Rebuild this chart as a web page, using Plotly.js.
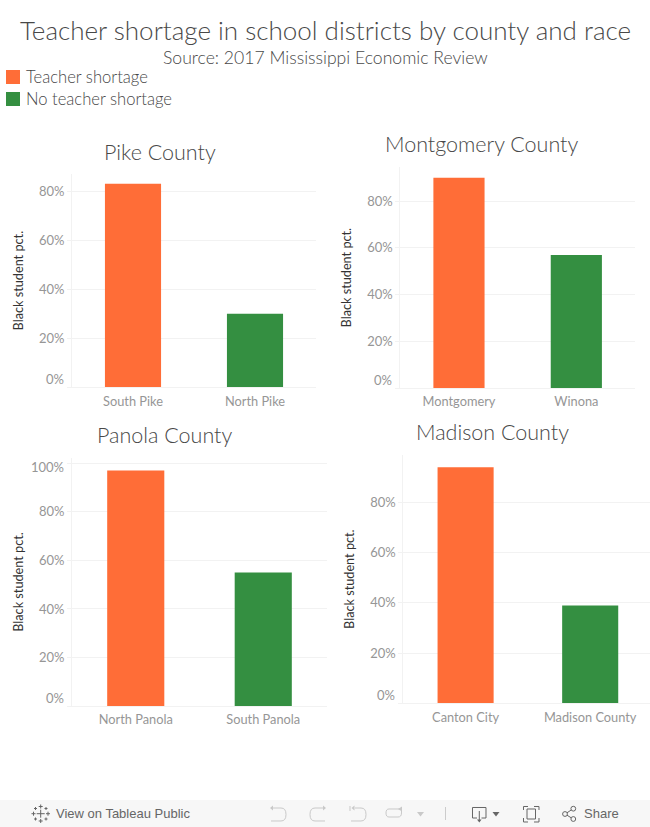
<!DOCTYPE html>
<html><head><meta charset="utf-8">
<script src="https://cdn.plot.ly/plotly-3.0.1.min.js"></script>
<style>html,body{margin:0;padding:0;background:#fff}#c{width:650px;height:827px}</style>
</head><body><div id="c"></div>
<script>
const W = 650, H = 827;
const pikeCats = ['South Pike', 'North Pike'];
const pikeVals = [83, 30];
const montCats = ['Montgomery', 'Winona'];
const montVals = [90, 57];
const panoCats = ['North Panola', 'South Panola'];
const panoVals = [97, 55];
const madiCats = ['Canton City', 'Madison County'];
const madiVals = [94, 39];
const barColors = ['#FF6D37', '#348F41'];
const legendLabels = ['Teacher shortage', 'No teacher shortage'];
const panels = [
  {name:'Pike County', cats:pikeCats, vals:pikeVals, l:72, r:316, t:174, b:387.3, max:87, gap:.54, hi:1.5, tx:159.5, ty:151.5},
  {name:'Montgomery County', cats:montCats, vals:montVals, l:400.3, r:635, t:167.3, b:388, max:94.5, gap:.564, hi:1.5, tx:481.7, ty:144.5},
  {name:'Panola County', cats:panoCats, vals:panoVals, l:72, r:327, t:458, b:706, max:102.2, gap:.552, hi:1.5, tx:164, ty:435, top100:true},
  {name:'Madison County', cats:madiCats, vals:madiVals, l:403.3, r:650, t:455, b:703.3, max:98.9, gap:.55, hi:1.48, tx:492.7, ty:432}
];
const tickStops = [20, 40, 60, 80];
const FONT = 'Lato, "Open Sans", sans-serif';
const UI = '"Liberation Sans", Arial, sans-serif';
const px = x => x / W, py = y => 1 - y / H;
const TICK = '#969696', DARK = '#484848', LINE = '#f2f2f2', ICON_LIGHT = '#c9c9c9', ICON_DARK = '#666666';
const traces = [], annotations = [], shapes = [];
const layout = {
  width: W, height: H, margin: {l:0, r:0, t:0, b:0}, showlegend: false,
  paper_bgcolor: '#fff', plot_bgcolor: '#fff', font: {family: FONT},
  annotations, shapes
};
function text(t, x, y, size, color, anchor, fam, weight) {
  annotations.push({text:t, xref:'paper', yref:'paper', x:px(x), y:py(y), xanchor:anchor||'center', yanchor:'middle',
    showarrow:false, font:{family:fam||FONT, size:size, color:color, weight:weight||300}});
}
// toolbar icon helper: [cmd, x, y, ...] tokens in page pixels, converted to paper space
function icon(segs, color, fill, width) {
  const d = segs.map(s => s[0] + s.slice(1).map((v, i) => (i % 2 ? py(v) : px(v)).toFixed(5)).join(' ')).join(' ');
  shapes.push({type:'path', xref:'paper', yref:'paper', path:d, line:{color:color, width:fill ? 0 : (width||1)}, fillcolor: fill ? color : 'rgba(0,0,0,0)'});
}
function ring(x, y, r, color) {
  shapes.push({type:'circle', xref:'paper', yref:'paper', x0:px(x-r), x1:px(x+r), y0:py(y+r), y1:py(y-r), line:{color:color, width:1}, fillcolor:'rgba(0,0,0,0)'});
}
panels.forEach((p, i) => {
  const s = i ? String(i + 1) : '';
  traces.push({type:'bar', x:p.cats, y:p.vals, xaxis:'x'+s, yaxis:'y'+s, marker:{color:barColors}, hoverinfo:'x+y', width:1-p.gap});
  const tv = [0].concat(tickStops), tt = [''].concat(tickStops.map(v => v + '%'));
  if (p.top100) { tv.push(100); tt.push(''); }
  layout['xaxis'+s] = {domain:[px(p.l), px(p.r)], anchor:'y'+s, type:'category', ticks:'', ticklabelstandoff:2,
    showline:true, linecolor:LINE, linewidth:1, showgrid:false, tickfont:{family:FONT, size:12.8, color:TICK}, fixedrange:true, range:[-.5,p.hi]};
  layout['yaxis'+s] = {domain:[py(p.b), py(p.t)], anchor:'x'+s, range:[0,p.max], tickmode:'array', tickvals:tv, ticktext:tt, ticks:'outside', ticklen:4, tickcolor:LINE,
    showline:true, linecolor:LINE, showgrid:true, gridcolor:LINE, zeroline:false, tickfont:{family:FONT, size:13, color:TICK}, fixedrange:true,
    title:{text:'Black student pct.', font:{family:FONT, size:12.7, color:'#333'}, standoff:12}};
  [-.5, .5].forEach(v => shapes.push({type:'line', xref:'x'+s, yref:'y'+s, x0:v, x1:v, ysizemode:'pixel', yanchor:0, y0:0, y1:-5, line:{color:LINE, width:1}}));
  text(p.name, p.tx, p.ty, 21.5, DARK);
  annotations.push({text:'0%', xref:'paper', yref:'y'+s, x:px(p.l-6), y:0, yshift:8, xanchor:'right', yanchor:'middle', showarrow:false, font:{family:FONT, size:13, color:TICK}});
  if (p.top100) annotations.push({text:'100%', xref:'paper', yref:'y'+s, x:px(p.l-6), y:100, yshift:-4, xanchor:'right', yanchor:'middle', showarrow:false, font:{family:FONT, size:13, color:TICK}});
});
text('Teacher shortage in school districts by county and race', 325, 29.5, 26, DARK);
text('Source: 2017 Mississippi Economic Review', 325, 57.5, 17.6, DARK);
legendLabels.forEach((t, i) => {
  const y = 77 + i * 22;
  shapes.push({type:'rect', xref:'paper', yref:'paper', x0:px(6), x1:px(20), y0:py(y-7), y1:py(y+7), fillcolor:barColors[i], line:{width:0}});
  text(t, 23.5, y + 0.3, 16.6, DARK, 'left');
});
// toolbar
shapes.push({type:'rect', xref:'paper', yref:'paper', x0:0, x1:1, y0:0, y1:py(800), fillcolor:'#f7f7f7', line:{width:0}, layer:'below'});
text('View on Tableau Public', 54, 813.5, 13, '#666', 'left', UI, 400);
text('Share', 581.5, 813.5, 13, '#666', 'left', UI, 400);
// tableau mark
const cross = (x, y, a) => [['M',x-a,y],['L',x+a,y],['M',x,y-a],['L',x,y+a]];
icon([].concat(cross(40.7,813.7,4), cross(40.7,806.5,2), cross(40.7,821,2), cross(33.5,813.7,2), cross(48,813.7,2),
  cross(35.5,808.5,1.5), cross(46,808.5,1.5), cross(35.5,819,1.5), cross(46,819,1.5)), ICON_DARK);
// undo, redo, revert, refresh
icon([['M',271,808],['L',281,808],['Q',286,808,286,814.5],['Q',286,821,281,821],['L',271,821]], ICON_LIGHT);
icon([['M',270,808],['L',273,805.5],['L',273,810.5],['Z']], ICON_LIGHT, true);
icon([['M',325,808],['L',315,808],['Q',310,808,310,814.5],['Q',310,821,315,821],['L',325,821]], ICON_LIGHT);
icon([['M',326,808],['L',323,805.5],['L',323,810.5],['Z']], ICON_LIGHT, true);
icon([['M',350,806],['L',350,811],['M',355,808],['L',361,808],['Q',366,808,366,814.5],['Q',366,821,361,821],['L',351,821]], ICON_LIGHT);
icon([['M',351.5,808],['L',354.5,805.5],['L',354.5,810.5],['Z']], ICON_LIGHT, true);
icon([['M',400,809],['L',389,809],['Q',386,809,386,813],['Q',386,817,389,817],['L',398,817],['Q',401.5,817,401.5,813],['L',401.5,810]], ICON_LIGHT);
icon([['M',398,809],['L',402,806.5],['L',402,811.5],['Z']], ICON_LIGHT, true);
icon([['M',417,812],['L',424,812],['L',420.5,816.5],['Z']], ICON_LIGHT, true);
icon([['M',445.5,807],['L',445.5,820]], '#cccccc');
// download
icon([['M',477,818],['L',472.5,818],['L',472.5,807.5],['L',486,807.5],['L',486,818],['L',481.5,818],['M',479.3,811],['L',479.3,820]], ICON_DARK);
icon([['M',477,819.5],['L',481.6,819.5],['L',479.3,822.5],['Z']], ICON_DARK, true);
icon([['M',492.5,812],['L',499.5,812],['L',496,816.5],['Z']], ICON_DARK, true);
// fullscreen
icon([['M',523.5,810],['L',523.5,806.5],['L',528,806.5],['M',534,806.5],['L',539,806.5],['L',539,810],['M',539,818],['L',539,822],['L',534,822],['M',528,822],['L',523.5,822],['L',523.5,818],
  ['M',527,809],['L',535.5,809],['L',535.5,819],['L',527,819],['Z']], ICON_DARK);
// share
ring(573.3, 808.7, 2.4, ICON_DARK); ring(565, 814, 2.4, ICON_DARK); ring(573.3, 819, 2.4, ICON_DARK);
icon([['M',567,812.8],['L',571.2,810],['M',567,815.2],['L',571.2,817.8]], ICON_DARK);
Plotly.newPlot('c', traces, layout, {displayModeBar:false});
</script></body></html>
